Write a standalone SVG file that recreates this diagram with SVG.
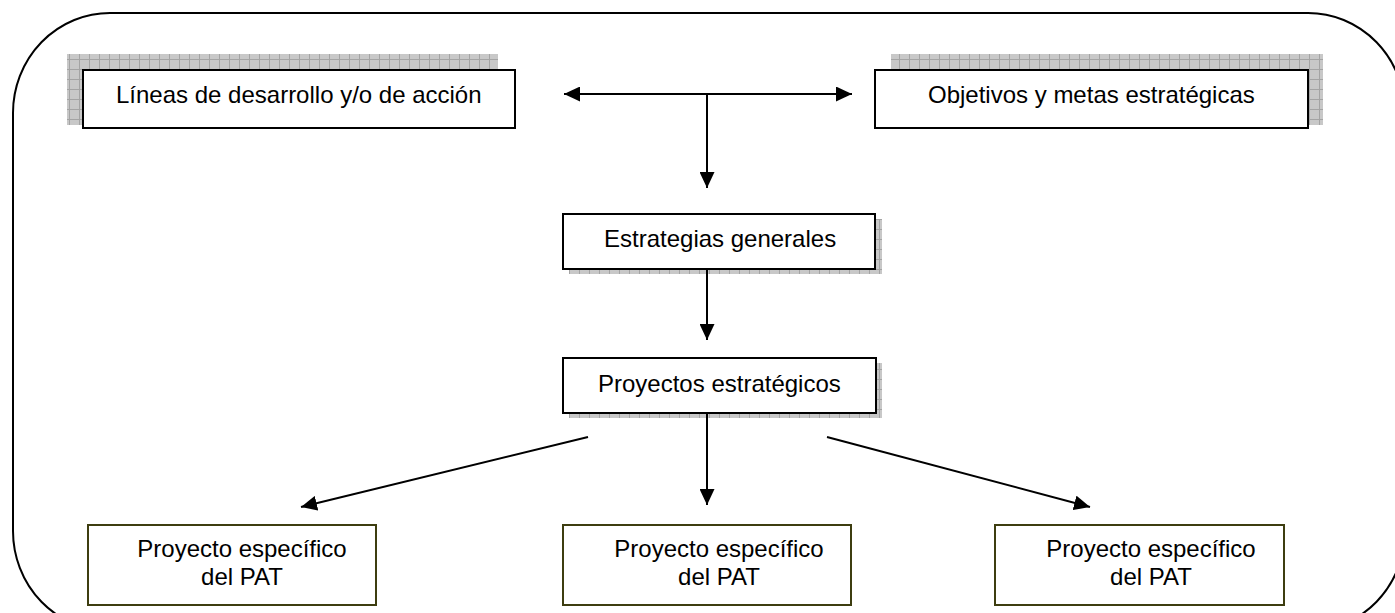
<svg xmlns="http://www.w3.org/2000/svg" width="1395" height="613" viewBox="0 0 1395 613">
<style>
.box{fill:#ffffff;stroke:#000000;stroke-width:2}
.pbox{fill:#ffffff;stroke:#3d3d10;stroke-width:2}
.shadow{fill:url(#grid)}
.t{font-family:"Liberation Sans",Arial,sans-serif;font-size:24px;fill:#000000}
.c{stroke:#000000;stroke-width:2;fill:none}
</style>
<defs>
<pattern id="grid" width="10" height="10" patternUnits="userSpaceOnUse">
<rect width="10" height="10" fill="#c8c8c8"/>
<path d="M9.5 0V10M0 9.5H10" stroke="#a4a4a4" stroke-width="1"/>
</pattern>
<marker id="ah" viewBox="0 0 16 15" refX="16" refY="7.5" markerWidth="16" markerHeight="15" markerUnits="userSpaceOnUse" orient="auto-start-reverse">
<path d="M0 0L16 7.5L0 15Z" fill="#000000"/>
</marker>
</defs>
<rect id="frame" x="13" y="13" width="1392" height="618" rx="97" ry="100" fill="none" stroke="#000000" stroke-width="2"/>
<g id="lineas">
<rect class="shadow" x="67" y="54" width="431" height="71"/>
<rect class="box" x="83" y="70" width="432" height="58"/>
<text class="t" x="116" y="103">Líneas de desarrollo y/o de acción</text>
</g>
<g id="objetivos">
<rect class="shadow" x="891" y="54" width="432" height="71"/>
<rect class="box" x="875" y="70" width="433" height="58"/>
<text class="t" x="928" y="103">Objetivos y metas estratégicas</text>
</g>
<g id="estrategias">
<rect class="shadow" x="569" y="219" width="313" height="55"/>
<rect class="box" x="563" y="214" width="312" height="55"/>
<text class="t" x="604" y="247">Estrategias generales</text>
</g>
<g id="proyectos">
<rect class="shadow" x="569" y="363" width="313" height="55"/>
<rect class="box" x="563" y="358" width="313" height="55"/>
<text class="t" x="598" y="392">Proyectos estratégicos</text>
</g>
<g id="pat1">
<rect class="pbox" x="88" y="525" width="288" height="80"/>
<text class="t" x="242" y="557" text-anchor="middle">Proyecto específico</text>
<text class="t" x="242" y="585" text-anchor="middle">del PAT</text>
</g>
<g id="pat2">
<rect class="pbox" x="563" y="525" width="288" height="80"/>
<text class="t" x="719" y="557" text-anchor="middle">Proyecto específico</text>
<text class="t" x="719" y="585" text-anchor="middle">del PAT</text>
</g>
<g id="pat3">
<rect class="pbox" x="995" y="525" width="289" height="80"/>
<text class="t" x="1151" y="557" text-anchor="middle">Proyecto específico</text>
<text class="t" x="1151" y="585" text-anchor="middle">del PAT</text>
</g>
<g id="connectors">
<line class="c" x1="564" y1="94" x2="852" y2="94" marker-start="url(#ah)" marker-end="url(#ah)"/>
<line class="c" x1="707" y1="94" x2="707" y2="188" marker-end="url(#ah)"/>
<line class="c" x1="707" y1="269" x2="707" y2="340" marker-end="url(#ah)"/>
<line class="c" x1="707" y1="413" x2="707" y2="505" marker-end="url(#ah)"/>
<line class="c" x1="588" y1="437" x2="301" y2="507" marker-end="url(#ah)"/>
<line class="c" x1="827" y1="437" x2="1090" y2="507" marker-end="url(#ah)"/>
</g>
</svg>
